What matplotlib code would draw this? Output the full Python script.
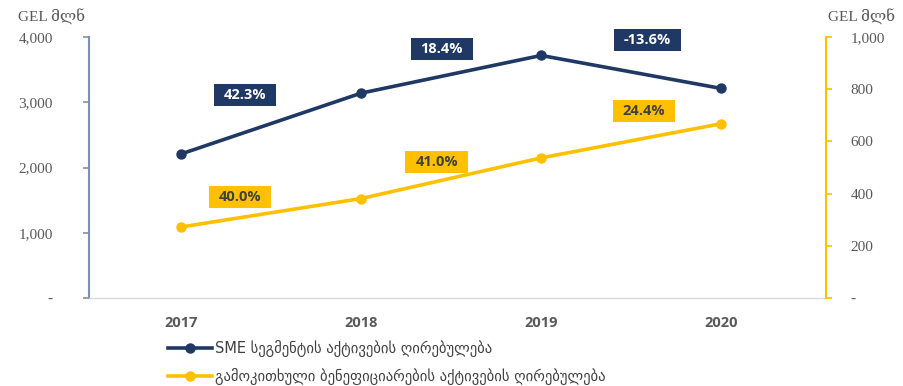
import matplotlib.pyplot as plt
from matplotlib.lines import Line2D
from matplotlib.patches import Rectangle

# Data
years = ["2017", "2018", "2019", "2020"]
sme_assets = [2207, 3140, 3718, 3212]          # GEL mln, left axis
benef_assets = [272, 381, 537, 668]            # GEL mln, right axis
sme_growth = ["42.3%", "18.4%", "-13.6%"]
benef_growth = ["40.0%", "41.0%", "24.4%"]
left_ticks = [0, 1000, 2000, 3000, 4000]
left_ticklabels = ["-", "1,000", "2,000", "3,000", "4,000"]
right_ticks = [0, 200, 400, 600, 800, 1000]
right_ticklabels = ["-", "200", "400", "600", "800", "1,000"]
unit_label = "GEL მლნ"
legend_labels = ["SME სეგმენტის აქტივების ღირებულება",
                 "გამოკითხული ბენეფიციარების აქტივების ღირებულება"]

NAVY = "#1f3864"
GOLD = "#ffc000"
TICK_GRAY = "#595959"
SERIF = ["Liberation Serif", "DejaVu Serif"]
SANS = ["Open Sans", "DejaVu Sans"]

fig = plt.figure(figsize=(9.04, 3.86), dpi=100)
ax = fig.add_axes([0.0985, 0.228, 0.815, 0.676])
ax2 = ax.twinx()

x = list(range(len(years)))
ax.plot(x, sme_assets, color=NAVY, lw=2.6, marker="o", ms=6.5, zorder=3)
ax2.plot(x, benef_assets, color=GOLD, lw=2.6, marker="o", ms=6.5, zorder=3)

ax.set_xlim(-0.51, 3.58)
ax.set_ylim(0, 4000)
ax2.set_ylim(0, 1000)

ax.set_xticks(x)
ax.set_xticklabels(years, fontsize=10.5, fontweight="bold", color=TICK_GRAY,
                   family=SANS)
ax.tick_params(axis="x", length=0, pad=13)

ax.set_yticks(left_ticks)
ax.set_yticklabels(left_ticklabels, fontsize=11, color=TICK_GRAY, family=SERIF)
ax.tick_params(axis="y", length=4, width=1.2, color="#8090b0", pad=22)

ax2.set_yticks(right_ticks)
ax2.set_yticklabels(right_ticklabels, fontsize=11, color=TICK_GRAY, family=SERIF)
ax2.tick_params(axis="y", length=4, width=1.2, color=GOLD, pad=14)

for a in (ax, ax2):
    a.spines["top"].set_visible(False)
ax.spines["right"].set_visible(False)
ax.spines["left"].set_color("#8090b0")
ax.spines["left"].set_linewidth(1.5)
ax.spines["bottom"].set_color("#d9d9d9")
ax.spines["bottom"].set_linewidth(1.0)
ax2.spines["left"].set_visible(False)
ax2.spines["bottom"].set_visible(False)
ax2.spines["right"].set_color(GOLD)
ax2.spines["right"].set_linewidth(1.5)

# Growth-rate labels between years (positions in left-axis units)
sme_pos = [(0.355, 3111), (1.448, 3816), (2.59, 3954)]
ben_pos = [(0.327, 1548), (1.42, 2084), (2.57, 2866)]
labels = []
for txt, (px, py) in zip(sme_growth, sme_pos):
    t = ax.text(px, py, txt, ha="center", va="center", fontsize=10.5,
                fontweight="bold", color="white", family=SANS, zorder=6)
    labels.append((t, NAVY))
for txt, (px, py) in zip(benef_growth, ben_pos):
    t = ax.text(px, py, txt, ha="center", va="center", fontsize=10.5,
                fontweight="bold", color="#404040", family=SANS, zorder=6)
    labels.append((t, GOLD))

# Boxes behind labels: wide horizontal padding, fixed height
fig.canvas.draw()
renderer = fig.canvas.get_renderer()
inv = fig.transFigure.inverted()
W, H = fig.bbox.width, fig.bbox.height
for t, col in labels:
    bb = t.get_window_extent(renderer)
    cx = (bb.x0 + bb.x1) / 2
    cy = (bb.y0 + bb.y1) / 2
    w = bb.width + 20
    h = 22
    fig.patches.append(Rectangle(((cx - w / 2) / W, (cy - h / 2) / H), w / W, h / H,
                                 transform=fig.transFigure, fc=col, ec="none",
                                 zorder=5))
    t.set_zorder(7)
# keep labels above boxes: move them to figure level
for t, col in labels:
    pos = t.get_position()
    disp = ax.transData.transform(pos)
    fx, fy = inv.transform(disp)
    fig.text(fx, fy, t.get_text(), ha="center", va="center", fontsize=10.5,
             fontweight="bold", color=t.get_color(), family=SANS, zorder=8)
    t.set_visible(False)

# Unit labels above both axes
fig.text(0.094, 0.955, unit_label, ha="right", va="center", fontsize=11,
         color=TICK_GRAY, family=SERIF)
fig.text(0.99, 0.955, unit_label, ha="right", va="center", fontsize=11,
         color=TICK_GRAY, family=SERIF)

handles = [Line2D([], [], color=NAVY, lw=2.6, marker="o", ms=6.5),
           Line2D([], [], color=GOLD, lw=2.6, marker="o", ms=6.5)]
leg = fig.legend(handles, legend_labels, loc="upper left",
                 bbox_to_anchor=(0.186, 0.12), frameon=False, fontsize=10.5,
                 handlelength=3.0, handletextpad=0.2, labelspacing=0.75,
                 borderaxespad=0, borderpad=0)
for t in leg.get_texts():
    t.set_color("#404040")

fig.savefig("out.png", dpi=100)
